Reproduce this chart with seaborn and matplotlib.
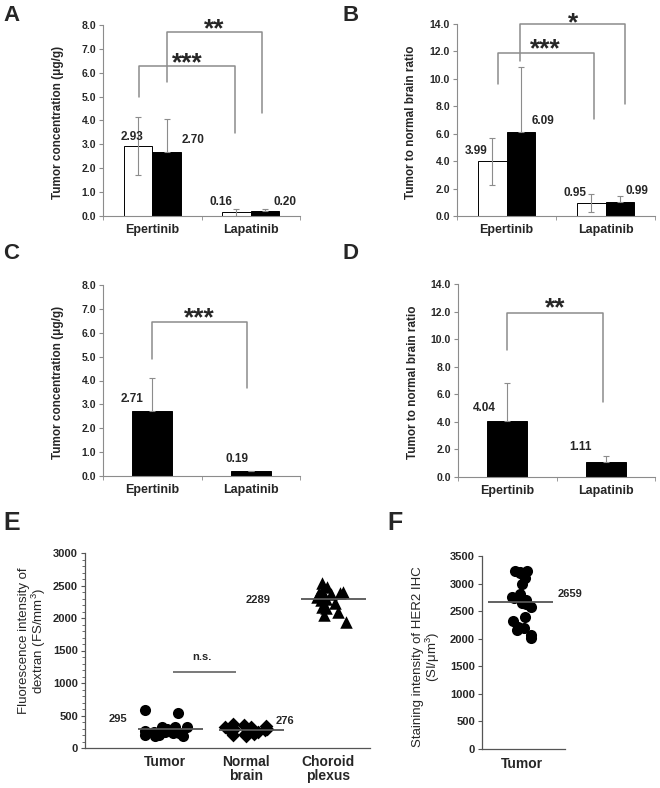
import numpy as np
import pandas as pd
import matplotlib
matplotlib.use("Agg")
import matplotlib.pyplot as plt
import seaborn as sns
from matplotlib.ticker import FormatStrFormatter, MultipleLocator

# ---- data ----
drugs = ["Epertinib", "Lapatinib"]
groups = ["Group 1", "Group 2"]

# A: tumor concentration (ug/g), two groups
a_mean = {"Group 1": [2.93, 0.16], "Group 2": [2.70, 0.20]}
a_sd = {"Group 1": [1.23, 0.15], "Group 2": [1.37, 0.08]}
# B: tumor to normal brain ratio, two groups
b_mean = {"Group 1": [3.99, 0.95], "Group 2": [6.09, 0.99]}
b_sd = {"Group 1": [1.73, 0.68], "Group 2": [4.76, 0.47]}
# C / D: single group
c_mean = [2.71, 0.19]
c_sd = [1.38, 0.03]
d_mean = [4.04, 1.11]
d_sd = [2.80, 0.42]

# E: dextran fluorescence
e_cats = ["Tumor", "Normal brain", "Choroid plexus"]
e_ticklabels = ["Tumor", "Normal\nbrain", "Choroid\nplexus"]
e_tumor = [580, 540, 330, 330, 320, 300, 290, 260, 250, 240, 230, 230, 200, 200, 190, 180]
e_normal = [370, 350, 340, 330, 320, 300, 290, 280, 270, 260, 250, 240, 220, 210, 200, 180]
e_choroid = [2540, 2470, 2400, 2400, 2390, 2380, 2370, 2330, 2290, 2270, 2230, 2170, 2160, 2100, 2040, 1940]
e_stats = [295, 276, 2289]

# F: HER2 IHC staining
f_tumor = [3230, 3220, 3210, 3200, 3100, 3000, 2810, 2760, 2740, 2700,
           2650, 2630, 2580, 2400, 2320, 2210, 2200, 2160, 2070, 2010]
f_stat = 2659

GRAY = "#8c8c8c"

sns.set_style("ticks")
plt.rcParams["font.family"] = ["Liberation Sans", "DejaVu Sans"]
plt.rcParams["mathtext.fontset"] = "custom"
plt.rcParams["mathtext.rm"] = "Liberation Sans"
plt.rcParams["mathtext.it"] = "Liberation Sans:italic"
np.random.seed(7)


def style_bar_axes(ax, ymax, ystep, ylabel, label_x):
    ax.set_xlim(-0.5, 1.5)
    ax.set_ylim(0, ymax)
    ax.yaxis.set_major_locator(MultipleLocator(ystep))
    ax.yaxis.set_major_formatter(FormatStrFormatter("%.1f"))
    ax.set_xticks([0, 1])
    ax.set_xticklabels(drugs, fontsize=9, fontweight="bold")
    ax.set_xticks([-0.5, 0.5, 1.5], minor=True)
    ax.tick_params(axis="x", which="major", length=0, pad=6)
    ax.tick_params(axis="x", which="minor", length=3, color=GRAY, direction="out")
    ax.tick_params(axis="y", length=3, color=GRAY, labelsize=7.5, pad=2)
    for t in ax.get_yticklabels():
        t.set_fontweight("bold")
    for s in ["top", "right"]:
        ax.spines[s].set_visible(False)
    for s in ["left", "bottom"]:
        ax.spines[s].set_color(GRAY)
        ax.spines[s].set_linewidth(0.8)
    ax.set_xlabel("")
    ax.set_ylabel(ylabel, fontsize=8.5, fontweight="bold")
    ax.yaxis.set_label_coords(label_x, 0.49)


def bar_panel(ax, means, sds, palette, width, offsets):
    rows = []
    for g, vals in means.items():
        for d, v in zip(drugs, vals):
            rows.append({"drug": d, "group": g, "value": v})
    df = pd.DataFrame(rows)
    sns.barplot(data=df, x="drug", y="value", hue="group", order=drugs,
                hue_order=list(means.keys()), palette=palette, width=width,
                edgecolor="black", linewidth=0.7, errorbar=None, legend=False,
                ax=ax, zorder=2)
    k = 0
    for cont, g in zip(ax.containers, means.keys()):
        filled = palette[g] == "black"
        for bar, v, sd in zip(cont, means[g], sds[g]):
            xc = bar.get_x() + bar.get_width() / 2
            low = 0 if filled else sd
            ax.errorbar(xc, v, yerr=[[low], [sd]], color=GRAY, lw=0.8,
                        capsize=2.5, capthick=0.8, zorder=3)
            dx, dy = offsets[k]
            ax.text(xc + dx, v + dy, f"{v:.2f}", ha="center", va="center",
                    fontsize=8.5, fontweight="bold")
            k += 1


def bracket(ax, x1, x2, y1, ytop, y2, stars, ystar):
    ax.plot([x1, x1, x2, x2], [y1, ytop, ytop, y2], color=GRAY, lw=1.1,
            clip_on=False, zorder=4)
    ax.annotate(stars, xy=((x1 + x2) / 2, ystar), xytext=(0, -8.5),
                textcoords="offset points", ha="center", va="baseline",
                fontsize=19, fontweight="bold", annotation_clip=False)


fig = plt.figure(figsize=(6.6, 7.88), dpi=100)
W, H = 660.0, 788.0


def px_axes(left, top, right, bottom):
    return fig.add_axes([left / W, 1 - bottom / H, (right - left) / W, (bottom - top) / H])


# ---- A ----
axA = px_axes(103, 25, 300, 216)
bar_panel(axA, a_mean, a_sd, {"Group 1": "white", "Group 2": "black"}, 0.58,
          [(-0.065, 0.39), (-0.155, 0.44), (0.265, 0.5), (0.2, 0.4)])
style_bar_axes(axA, 8, 1, "Tumor concentration (μg/g)", -0.2)
bracket(axA, -0.13, 0.84, 4.97, 6.28, 3.49, "***", 6.6)
bracket(axA, 0.15, 1.11, 5.63, 7.7, 4.33, "**", 8.04)

# ---- B ----
axB = px_axes(457, 24, 655, 216)
bar_panel(axB, b_mean, b_sd, {"Group 1": "white", "Group 2": "black"}, 0.58,
          [(-0.165, 0.75), (-0.165, 0.75), (0.225, 0.87), (0.175, 0.86)])
style_bar_axes(axB, 14, 2, "Tumor to normal brain ratio", -0.2)
bracket(axB, -0.086, 0.88, 9.63, 11.92, 7.06, "***", 12.5)
bracket(axB, 0.14, 1.2, 11.27, 14.0, 8.15, "*", 14.4)

# ---- C ----
axC = px_axes(103, 285, 300, 476)
bar_panel(axC, {"Group 2": c_mean}, {"Group 2": c_sd}, {"Group 2": "black"}, 0.41,
          [(-0.2, 0.5), (-0.14, 0.51)])
style_bar_axes(axC, 8, 1, "Tumor concentration (μg/g)", -0.2)
bracket(axC, 0.0, 0.96, 4.89, 6.45, 3.69, "***", 6.8)

# ---- D ----
axD = px_axes(458, 284, 655, 477)
bar_panel(axD, {"Group 2": d_mean}, {"Group 2": d_sd}, {"Group 2": "black"}, 0.41,
          [(-0.23, 0.94), (-0.26, 1.07)])
style_bar_axes(axD, 14, 2, "Tumor to normal brain ratio", -0.2)
bracket(axD, 0.0, 0.97, 9.22, 11.89, 5.46, "**", 12.6)

# ---- E ----
axE = px_axes(85, 553, 370, 748)
e_df = pd.DataFrame({
    "tissue": ["Tumor"] * len(e_tumor) + ["Normal brain"] * len(e_normal)
              + ["Choroid plexus"] * len(e_choroid),
    "value": e_tumor + e_normal + e_choroid,
})
for cat, mk, sz in zip(e_cats, ["o", "D", "^"], [8, 7, 9]):
    sns.stripplot(data=e_df[e_df["tissue"] == cat], x="tissue", y="value",
                  order=e_cats, marker=mk, size=sz, color="black", jitter=0.28,
                  linewidth=0, ax=axE, zorder=2)
for i, s in enumerate(e_stats):
    axE.hlines(s, i - 0.33, i + 0.47, color="#555555", lw=1.3, zorder=3)
for (lx, ly), s in zip([(-0.58, 440), (1.48, 410), (1.15, 2280)], e_stats):
    axE.text(lx, ly, str(s), ha="center", va="center", fontsize=8, fontweight="bold")
axE.hlines(1173, 0.1, 0.87, color="#555555", lw=1.1)
axE.text(0.45, 1395, "n.s.", ha="center", va="center", fontsize=8, fontweight="bold")
axE.set_xlim(-0.98, 2.52)
axE.set_ylim(0, 3000)
axE.yaxis.set_major_locator(MultipleLocator(500))
axE.yaxis.set_minor_locator(MultipleLocator(100))
axE.set_xticks([0, 1, 2])
axE.set_xticklabels(e_ticklabels, fontsize=10, fontweight="bold", linespacing=1.05)
axE.tick_params(axis="x", length=0, pad=5)
axE.tick_params(axis="y", which="major", length=3, labelsize=8, pad=2, color="#555555")
axE.tick_params(axis="y", which="minor", length=2, color="#555555")
for t in axE.get_yticklabels():
    t.set_fontweight("bold")
axE.set_xlabel("")
axE.set_ylabel("Fluorescence intensity of\ndextran (FS/mm$^3$)", fontsize=9.5,
               linespacing=1.0)
axE.yaxis.set_label_coords(-0.13, 0.55)

# ---- F ----
axF = px_axes(482, 556, 565, 749)
f_df = pd.DataFrame({"tissue": ["Tumor"] * len(f_tumor), "value": f_tumor})
sns.stripplot(data=f_df, x="tissue", y="value", marker="o", size=8, color="black",
              jitter=0.12, linewidth=0, ax=axF, zorder=2)
axF.hlines(f_stat, -0.41, 0.37, color="#555555", lw=1.3, zorder=3)
axF.text(0.58, 2812, str(f_stat), ha="center", va="center", fontsize=8,
         fontweight="bold", clip_on=False)
axF.set_xlim(-0.48, 0.52)
axF.set_ylim(0, 3500)
axF.yaxis.set_major_locator(MultipleLocator(500))
axF.set_xticks([0])
axF.set_xticklabels(["Tumor"], fontsize=10, fontweight="bold")
axF.tick_params(axis="x", length=0, pad=6)
axF.tick_params(axis="y", length=3, labelsize=8, pad=2, color="#555555")
for t in axF.get_yticklabels():
    t.set_fontweight("bold")
axF.set_xlabel("")
axF.set_ylabel("Staining intensity of HER2 IHC\n(SI/μm$^3$)", fontsize=9.5,
               linespacing=1.0)
axF.yaxis.set_label_coords(-0.48, 0.48)

for ax in [axE, axF]:
    for s in ["top", "right"]:
        ax.spines[s].set_visible(False)
    for s in ["left", "bottom"]:
        ax.spines[s].set_color("#555555")
        ax.spines[s].set_linewidth(0.9)

# ---- panel letters ----
for letter, x, y, fs in [("A", 3, 5, 16), ("B", 343, 5, 16), ("C", 3, 243, 16),
                         ("D", 343, 243, 16), ("E", 3, 511, 18), ("F", 387, 511, 18)]:
    fig.text(x / W, 1 - y / H, letter, ha="left", va="top", fontsize=fs, fontweight="bold")

fig.savefig("out.png", dpi=100)
